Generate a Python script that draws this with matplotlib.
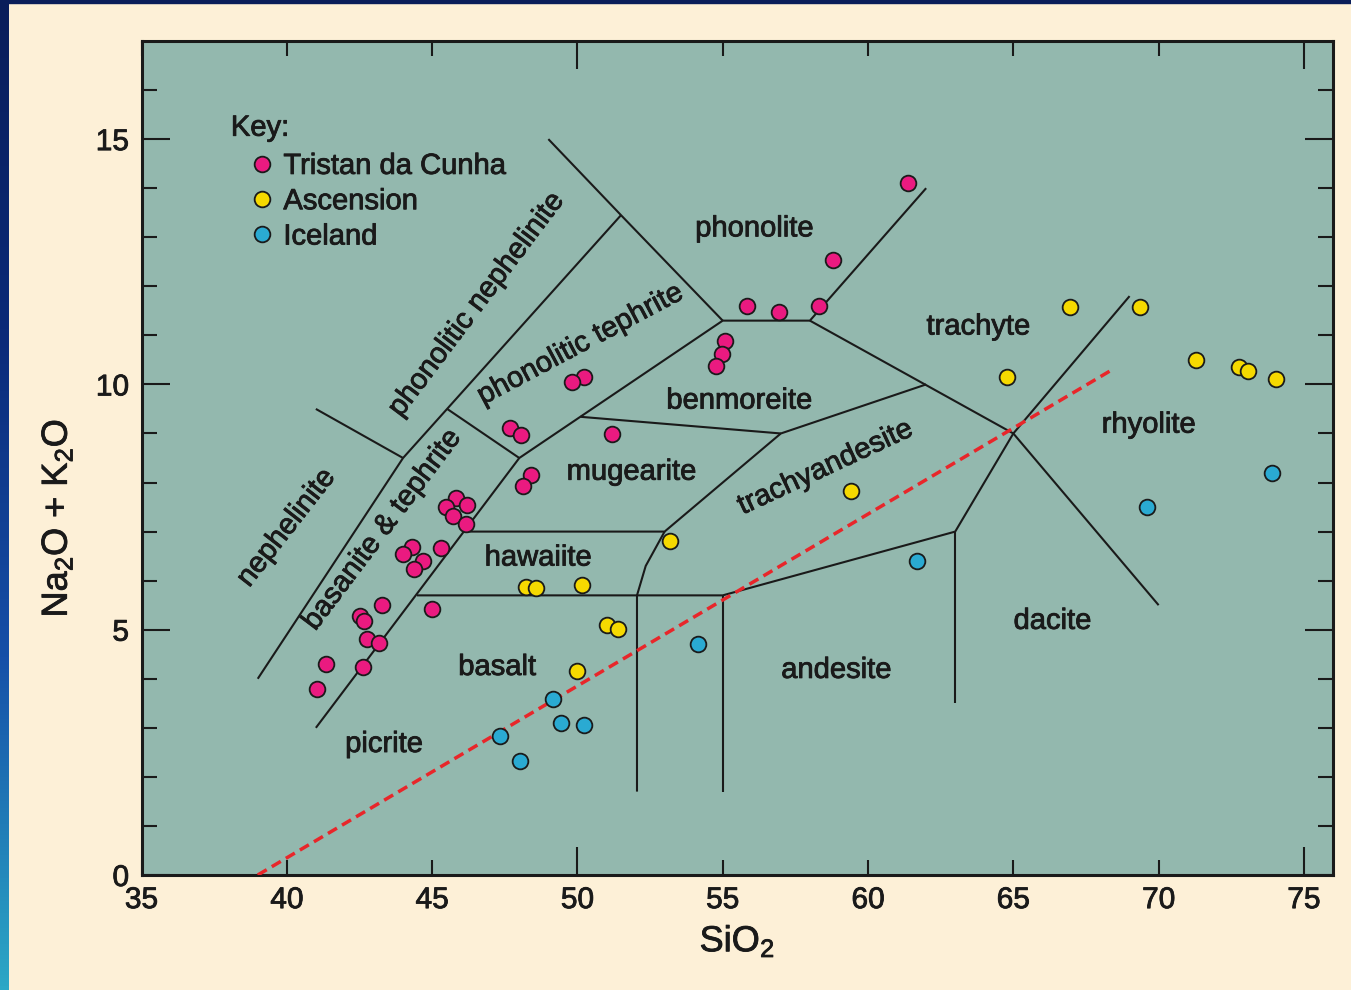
import numpy as np
import matplotlib
matplotlib.use("Agg")
import matplotlib.pyplot as plt
import matplotlib.patheffects as pe
from matplotlib.colors import LinearSegmentedColormap
from matplotlib.patches import Rectangle

plt.rcParams['font.family'] = ['Liberation Sans', 'DejaVu Sans']
plt.rcParams['mathtext.fontset'] = 'custom'
plt.rcParams['mathtext.rm'] = 'Liberation Sans'
plt.rcParams['mathtext.it'] = 'Liberation Sans:italic'

# --- samples: SiO2 vs total alkalis (Na2O + K2O), wt% ---
tristan_sio2 = [61.36, 58.78, 55.82, 56.92, 58.33, 55.09, 54.99, 54.78, 50.24, 49.82,
                51.2, 47.69, 48.07, 48.41, 48.14, 45.83, 46.21, 45.49, 45.73, 46.17,
                44.31, 44.0, 44.69, 44.38, 45.31, 43.28, 42.52, 42.66, 45.0, 42.76,
                43.18, 41.35, 42.62, 41.04]
tristan_alk = [14.1, 12.53, 11.59, 11.47, 11.59, 10.88, 10.61, 10.37, 10.16, 10.04,
               8.98, 9.12, 8.96, 8.16, 7.92, 7.69, 7.55, 7.51, 7.31, 7.16,
               6.69, 6.55, 6.41, 6.24, 6.67, 5.51, 5.27, 5.18, 5.43, 4.82,
               4.73, 4.31, 4.24, 3.8]

ascension_sio2 = [66.94, 69.35, 64.77, 71.28, 72.76, 73.07, 74.03, 59.43, 53.2, 48.24,
                  48.59, 50.17, 51.03, 51.41, 49.99]
ascension_alk = [11.57, 11.57, 10.16, 10.49, 10.35, 10.27, 10.12, 7.82, 6.8, 5.88,
                 5.86, 5.92, 5.1, 5.02, 4.16]

iceland_sio2 = [73.9, 69.59, 61.67, 54.16, 49.17, 49.45, 50.24, 47.35, 48.03]
iceland_alk = [8.2, 7.51, 6.41, 4.71, 3.59, 3.1, 3.06, 2.84, 2.33]

# --- classification field boundaries (x list, y list) ---
boundaries = [
    ([39.0, 44.0, 51.5], [4.0, 8.5, 13.45]),
    ([41.0, 44.0], [9.5, 8.5]),
    ([49.0, 51.5, 55.0], [15.0, 13.45, 11.3]),
    ([41.0, 48.0, 55.0, 58.0, 62.0], [3.0, 8.5, 11.3, 11.3, 14.0]),
    ([45.52, 48.0], [9.5, 8.5]),
    ([46.09, 53.0, 57.0, 62.0], [7.0, 7.0, 9.0, 10.0]),
    ([50.1, 57.0], [9.34, 9.0]),
    ([53.0, 52.35, 52.05, 52.05], [7.0, 6.3, 5.7, 1.7]),
    ([44.48, 55.0, 63.0, 65.0, 69.0], [5.7, 5.7, 7.0, 9.0, 11.8]),
    ([55.0, 55.0], [5.7, 1.7]),
    ([63.0, 63.0], [7.0, 3.5]),
    ([58.0, 65.0, 70.0], [11.3, 9.0, 5.5]),
]

# alkaline / sub-alkaline divide
divide_sio2 = [39.0, 68.4]
divide_alk = [0.0, 10.3]

field_names = ['phonolite', 'trachyte', 'rhyolite', 'benmoreite', 'mugearite',
               'hawaiite', 'basalt', 'picrite', 'andesite', 'dacite',
               'trachyandesite', 'phonolitic tephrite', 'phonolitic nephelinite',
               'basanite & tephrite', 'nephelinite']
label_pos = [(56.09, 13.18, 0), (63.8, 11.18, 0), (69.66, 9.18, 0), (55.57, 9.67, 0),
             (51.86, 8.22, 0), (48.65, 6.47, 0), (47.24, 4.24, 0), (43.35, 2.67, 0),
             (58.91, 4.18, 0), (66.35, 5.18, 0), (58.53, 8.31, 25), (50.1, 10.82, 28),
             (46.52, 11.63, 53), (43.28, 7.04, 53), (39.98, 7.08, 52)]

bg = '#fdf0d7'
ink = '#1a1a1a'
bold_fx = [pe.withStroke(linewidth=0.6, foreground=ink)]

fig = plt.figure(figsize=(13.51, 9.90), dpi=100, facecolor=bg)

# decorative slide border: gradient on the left, navy strip on top
strip = fig.add_axes([0, 0, 9 / 1351, 1])
cmap = LinearSegmentedColormap.from_list('edge', ['#0a1e5a', '#0b2a78', '#1650a8', '#2ca8c6'])
strip.imshow(np.linspace(0, 1, 256).reshape(-1, 1), aspect='auto', cmap=cmap)
strip.set_axis_off()
fig.patches.append(Rectangle((0, 1 - 3 / 990), 1, 3 / 990, transform=fig.transFigure,
                             color='#0a1e5a', zorder=5))

ax = fig.add_axes([141.5 / 1351, 115 / 990, (1333 - 141.5) / 1351, (875 - 41) / 990])
ax.set_facecolor('#93b8ae')

for xs, ys in boundaries:
    ax.plot(xs, ys, color=ink, lw=1.5, solid_capstyle='butt', zorder=2)

ax.plot(divide_sio2, divide_alk, color='#e8262a', lw=2.5, ls=(0, (3, 1.7)), zorder=3)

mk = dict(ls='none', marker='o', ms=11.3, mec=ink, mew=1.3, zorder=4)
h1, = ax.plot(tristan_sio2, tristan_alk, mfc='#ea1a80', label='Tristan da Cunha', **mk)
h2, = ax.plot(ascension_sio2, ascension_alk, mfc='#f6d900', label='Ascension', **mk)
h3, = ax.plot(iceland_sio2, iceland_alk, mfc='#2aaad2', label='Iceland', **mk)

for name, (lx, ly, rot) in zip(field_names, label_pos):
    ax.text(lx, ly, name, fontsize=21, color=ink, ha='center', va='center',
            rotation=rot, rotation_mode='anchor', zorder=3, path_effects=bold_fx)

ax.text(0.075, 0.896, 'Key:', transform=ax.transAxes, fontsize=21, color=ink,
        ha='left', va='center', path_effects=bold_fx)
leg = ax.legend(handles=[h1, h2, h3], loc='upper left', bbox_to_anchor=(0.0914, 0.867),
                frameon=False, fontsize=21, handlelength=0.8, handletextpad=0.33,
                labelspacing=0.25, borderpad=0, borderaxespad=0, labelcolor=ink)
for t in leg.get_texts():
    t.set_path_effects(bold_fx)

ax.set_xlim(35, 76)
ax.set_ylim(0, 17)

ax.set_xticks([50, 75], labels=['50', '75'])
short_x = [35, 40, 45, 55, 60, 65, 70]
ax.set_xticks(short_x, labels=[str(v) for v in short_x], minor=True)
ax.set_yticks([0, 5, 10, 15], labels=['0', '5', '10', '15'])
ax.set_yticks([v for v in range(1, 17) if v % 5], minor=True)

ax.tick_params(which='both', direction='in', top=True, right=True, width=1.5,
               color=ink, labelsize=21.5, labelcolor=ink)
ax.tick_params(which='major', length=20)
ax.tick_params(which='minor', length=10.8)
ax.tick_params(axis='x', which='both', pad=8)
ax.tick_params(axis='y', which='both', pad=9)
for t in ax.get_xticklabels(which='both') + ax.get_yticklabels(which='both'):
    t.set_path_effects(bold_fx)

for s in ax.spines.values():
    s.set_linewidth(2.2)
    s.set_color(ink)

ax.set_xlabel(r'SiO$_\mathrm{2}$', fontsize=26, color=ink, labelpad=6,
              path_effects=bold_fx)
ax.set_ylabel(r'Na$_\mathrm{2}$O + K$_\mathrm{2}$O', fontsize=26, color=ink,
              path_effects=bold_fx)
ax.yaxis.set_label_coords(-0.056, 0.428)

fig.savefig('out.png', dpi=100, facecolor=bg)
